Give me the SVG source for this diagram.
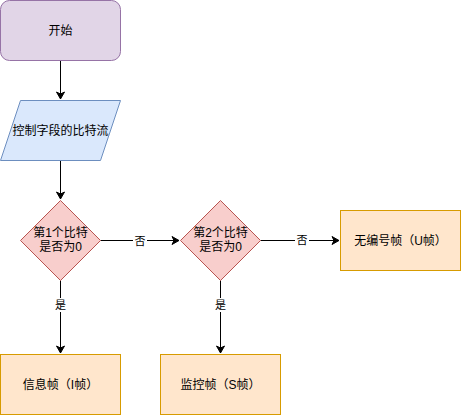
<svg xmlns="http://www.w3.org/2000/svg" width="461" height="415" viewBox="0 0 461 415">
<defs>
<marker id="arr" markerWidth="10" markerHeight="10" refX="8" refY="5" orient="auto" markerUnits="userSpaceOnUse">
<path d="M1,1 L8,5 L1,9 L3,5 Z" fill="#000" stroke="#000" stroke-width="1"/>
</marker>
<style>
text{font-family:"Liberation Sans","Noto Sans CJK SC",sans-serif;font-size:12px;fill:#000;text-anchor:middle}
.edge{stroke:#000;stroke-width:1;fill:none;marker-end:url(#arr)}
.lbl{font-size:11px}
</style>
</defs>
<rect width="461" height="415" fill="#fff"/>
<g id="connectors">
<line class="edge" x1="60.5" y1="60.5" x2="60.5" y2="99"/>
<line class="edge" x1="60.5" y1="160.5" x2="60.5" y2="199"/>
<line class="edge" x1="100.5" y1="240.5" x2="179" y2="240.5"/>
<line class="edge" x1="260.5" y1="240.5" x2="339" y2="240.5"/>
<line class="edge" x1="60.5" y1="280.5" x2="60.5" y2="353"/>
<line class="edge" x1="220.5" y1="280.5" x2="220.5" y2="353"/>
<rect x="133" y="233" width="14" height="14" fill="#fff"/>
<text class="lbl" x="140" y="244.5">否</text>
<rect x="295" y="233" width="14" height="14" fill="#fff"/>
<text class="lbl" x="302" y="244">否</text>
<rect x="53" y="298" width="14" height="14" fill="#fff"/>
<text class="lbl" x="60.5" y="309">是</text>
<rect x="213" y="298" width="14" height="14" fill="#fff"/>
<text class="lbl" x="220.5" y="309">是</text>
</g>
<g id="start">
<rect x="0.5" y="0.5" width="120" height="60" rx="9" fill="#e1d5e7" stroke="#9673a6"/>
<text x="60.5" y="35">开始</text>
</g>
<g id="input">
<polygon points="20.5,100.5 120.5,100.5 100.5,160.5 0.5,160.5" fill="#dae8fc" stroke="#6c8ebf"/>
<text x="60.5" y="135">控制字段的比特流</text>
</g>
<g id="decision1">
<polygon points="60.5,200.5 100.5,240.5 60.5,280.5 20.5,240.5" fill="#f8cecc" stroke="#b85450"/>
<text x="60.5" y="237">第1个比特</text>
<text x="60.5" y="251">是否为0</text>
</g>
<g id="decision2">
<polygon points="220.5,200.5 260.5,240.5 220.5,280.5 180.5,240.5" fill="#f8cecc" stroke="#b85450"/>
<text x="220.5" y="237">第2个比特</text>
<text x="220.5" y="251">是否为0</text>
</g>
<g id="uframe">
<rect x="340.5" y="210.5" width="120" height="60" fill="#ffe6cc" stroke="#d79b00"/>
<text x="400.5" y="245">无编号帧（U帧）</text>
</g>
<g id="iframe">
<rect x="0.5" y="354.5" width="120" height="60" fill="#ffe6cc" stroke="#d79b00"/>
<text x="60.5" y="389">信息帧（I帧）</text>
</g>
<g id="sframe">
<rect x="160.5" y="354.5" width="120" height="60" fill="#ffe6cc" stroke="#d79b00"/>
<text x="220.5" y="389">监控帧（S帧）</text>
</g>
</svg>
